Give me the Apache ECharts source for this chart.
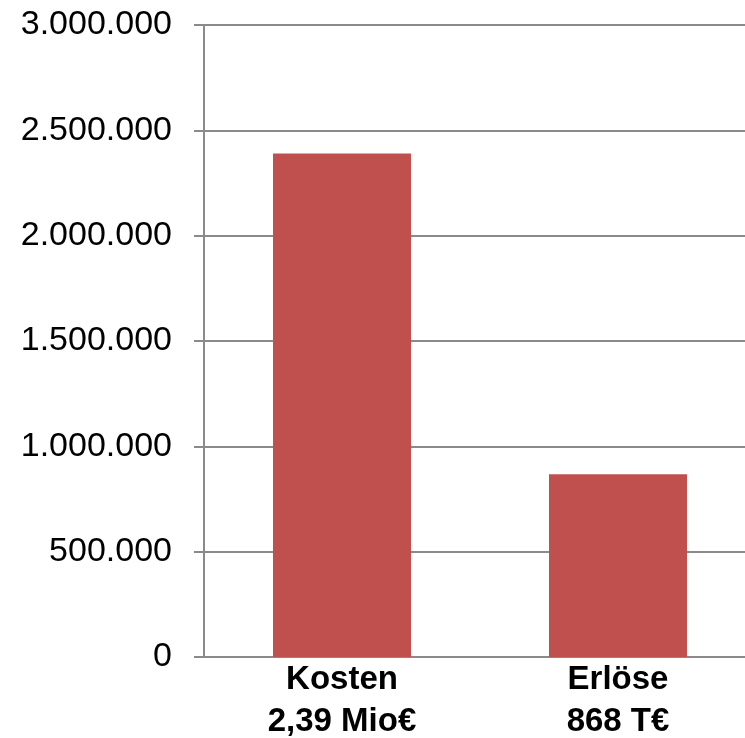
<!DOCTYPE html>
<html>
<head>
<meta charset="utf-8">
<script src="https://cdn.jsdelivr.net/npm/echarts@6/dist/echarts.min.js"></script>
<style>
  html, body { margin: 0; padding: 0; background: #ffffff; }
  #chart { width: 745px; height: 738px; }
</style>
</head>
<body>
<div id="chart"></div>
<script>
// Kosten und Erlöse in Euro
const categories = ['Kosten', 'Erlöse'];
const amounts = [2390000, 868000];
const amountLabels = ['2,39 Mio€', '868 T€'];
const yTicks = { min: 0, max: 3000000, interval: 500000 };

const formatDE = v => String(v).replace(/\B(?=(\d{3})+(?!\d))/g, '.');

const chart = echarts.init(document.getElementById('chart'));
chart.setOption({
  animation: false,
  backgroundColor: '#ffffff',
  grid: {
    left: 204, top: 25, bottom: 81, right: -11,
    containLabel: false,
    outerBoundsMode: 'none'
  },
  xAxis: {
    type: 'category',
    data: categories,
    axisLine: { show: true, lineStyle: { color: '#8a8a8a', width: 2 } },
    axisTick: { show: false },
    axisLabel: {
      interval: 0,
      margin: 2,
      color: '#000000',
      fontFamily: 'Liberation Sans, Arial, sans-serif',
      fontWeight: 'bold',
      fontSize: 33,
      lineHeight: 42,
      formatter: (v, i) => v + '\n' + amountLabels[i]
    }
  },
  yAxis: {
    type: 'value',
    min: yTicks.min,
    max: yTicks.max,
    interval: yTicks.interval,
    axisLine: { show: true, lineStyle: { color: '#8a8a8a', width: 2 } },
    axisTick: { show: true, inside: false, length: 10, lineStyle: { color: '#8a8a8a', width: 2 } },
    splitLine: { show: true, lineStyle: { color: '#8a8a8a', width: 2 } },
    axisLabel: {
      margin: 32,
      color: '#000000',
      fontFamily: 'Liberation Sans, Arial, sans-serif',
      fontSize: 34,
      formatter: v => formatDE(v)
    }
  },
  series: [{
    type: 'bar',
    data: amounts,
    barWidth: '50%',
    itemStyle: { color: '#c0504d' }
  }]
});
</script>
</body>
</html>
